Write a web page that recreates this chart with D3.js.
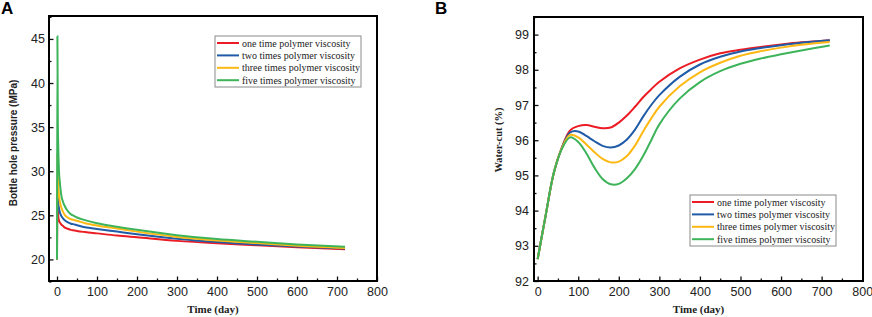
<!DOCTYPE html>
<html>
<head>
<meta charset="utf-8">
<script src="https://cdn.jsdelivr.net/npm/d3@7"></script>
<style>
	body { margin: 0; background: #fff; }
	svg { display: block; }
	.tick text { font-family: Arial, "Liberation Sans", sans-serif; font-size: 12.5px; fill: #222; }
	.axis path { display: none; }
	.axis line { stroke: #111; stroke-width: 1.3; }
</style>
</head>
<body>
<svg width="872" height="317"></svg>
<script>
// series names (legend)
var seriesNames = ['one time polymer viscosity', 'two times polymer viscosity', 'three times polymer viscosity', 'five times polymer viscosity'];
var seriesColors = ['#ec1c24', '#1f5ba6', '#fdb813', '#3db45a'];

// Panel A - bottle hole pressure (MPa)
var timeA = [0, 1, 2, 3, 5, 7, 10, 16, 20, 25, 35, 40, 50, 70, 100, 150, 200, 300, 400, 500, 600, 720];
var pressOne   = [20, 27.0, 25.8, 25.0, 24.4, 24.2, 24.0, 23.75, 23.6, 23.5, 23.35, 23.3, 23.22, 23.1, 22.95, 22.7, 22.5, 22.1, 21.82, 21.6, 21.38, 21.14];
var pressTwo   = [20, 29.0, 27.4, 26.5, 25.8, 25.35, 25.0, 24.6, 24.4, 24.25, 24.05, 24.0, 23.88, 23.65, 23.45, 23.15, 22.85, 22.35, 21.97, 21.68, 21.45, 21.22];
var pressThree = [20, 32.0, 29.8, 28.5, 27.3, 26.6, 26.0, 25.3, 25.0, 24.8, 24.55, 24.5, 24.38, 24.1, 23.85, 23.5, 23.15, 22.55, 22.15, 21.85, 21.55, 21.3];
var pressFive  = [20, 45.3, 36.0, 33.0, 30.0, 28.8, 27.5, 26.4, 26.0, 25.6, 25.1, 24.98, 24.75, 24.45, 24.1, 23.7, 23.35, 22.75, 22.3, 22.0, 21.7, 21.42];

// Panel B - water-cut (%)
var timeB = [0, 20, 40, 60, 80, 100, 120, 140, 160, 180, 200, 220, 240, 260, 280, 300, 350, 400, 450, 500, 550, 600, 650, 720];
var wcOne   = [92.62, 93.88, 95.08, 95.8, 96.28, 96.40, 96.43, 96.38, 96.34, 96.36, 96.50, 96.70, 96.95, 97.22, 97.45, 97.66, 98.04, 98.29, 98.47, 98.57, 98.65, 98.72, 98.78, 98.84];
var wcTwo   = [92.62, 93.88, 95.08, 95.79, 96.22, 96.25, 96.12, 95.97, 95.84, 95.79, 95.85, 96.02, 96.3, 96.67, 97.0, 97.28, 97.80, 98.15, 98.37, 98.52, 98.62, 98.70, 98.77, 98.84];
var wcThree = [92.62, 93.88, 95.08, 95.78, 96.15, 96.08, 95.88, 95.66, 95.47, 95.37, 95.39, 95.55, 95.85, 96.25, 96.62, 96.95, 97.53, 97.93, 98.20, 98.40, 98.53, 98.63, 98.71, 98.79];
var wcFive  = [92.62, 93.88, 95.08, 95.76, 96.08, 95.95, 95.63, 95.22, 94.90, 94.75, 94.76, 94.92, 95.18, 95.55, 96.0, 96.45, 97.18, 97.65, 97.96, 98.17, 98.32, 98.44, 98.55, 98.69];

// ticks
var xTicks = [0, 100, 200, 300, 400, 500, 600, 700, 800];
var xMinor = [50, 150, 250, 350, 450, 550, 650, 750];
var yTicksA = [20, 25, 30, 35, 40, 45];
var yMinorA = [17.5, 22.5, 27.5, 32.5, 37.5, 42.5, 47.5];
var yTicksB = [92, 93, 94, 95, 96, 97, 98, 99];
var yMinorB = [92.5, 93.5, 94.5, 95.5, 96.5, 97.5, 98.5, 99.5];

var svg = d3.select('svg');

function drawPanel(p) {
	var g = svg.append('g');
	var x = d3.scaleLinear().domain(p.xDomain).range([p.left, p.right]);
	var y = d3.scaleLinear().domain(p.yDomain).range([p.bottom, p.top]);

	// axes with inward ticks
	g.append('g').attr('class', 'axis')
		.attr('transform', 'translate(0,' + p.bottom + ')')
		.call(d3.axisBottom(x).tickValues(xTicks).tickSizeInner(-4.5).tickSizeOuter(0).tickPadding(6));
	g.append('g').attr('class', 'axis')
		.attr('transform', 'translate(0,' + p.bottom + ')')
		.call(d3.axisBottom(x).tickValues(xMinor).tickSizeInner(-2.5).tickSizeOuter(0).tickFormat(''));
	g.append('g').attr('class', 'axis')
		.attr('transform', 'translate(' + p.left + ',0)')
		.call(d3.axisLeft(y).tickValues(p.yTicks).tickSizeInner(-4.5).tickSizeOuter(0).tickPadding(p.yPad));
	g.append('g').attr('class', 'axis')
		.attr('transform', 'translate(' + p.left + ',0)')
		.call(d3.axisLeft(y).tickValues(p.yMinor).tickSizeInner(-2.5).tickSizeOuter(0).tickFormat(''));

	// lines
	var line = d3.line()
		.x(function(d) { return x(d[0]); })
		.y(function(d) { return y(d[1]); })
		.curve(p.curve);
	p.series.forEach(function(vals, i) {
		g.append('path')
			.datum(p.time.map(function(t, j) { return [t, vals[j]]; }))
			.attr('fill', 'none')
			.attr('stroke', seriesColors[i])
			.attr('stroke-width', 2)
			.attr('d', line);
	});

	// frame
	g.append('rect')
		.attr('x', p.left).attr('y', p.top)
		.attr('width', p.right - p.left).attr('height', p.bottom - p.top)
		.attr('fill', 'none').attr('stroke', '#000').attr('stroke-width', 2);

	// legend
	var lg = g.append('g').attr('transform', 'translate(' + p.legX + ',' + p.legY + ')');
	lg.append('rect')
		.attr('x', 0).attr('y', 0).attr('width', 146).attr('height', 51)
		.attr('fill', '#fff').attr('stroke', '#8a8a8a').attr('stroke-width', 1);
	seriesNames.forEach(function(name, i) {
		var cy = 7 + i * 12.4;
		lg.append('line')
			.attr('x1', 2).attr('x2', 24).attr('y1', cy).attr('y2', cy)
			.attr('stroke', seriesColors[i]).attr('stroke-width', 2);
		lg.append('text')
			.attr('x', 27).attr('y', cy + 3.5)
			.style('font-family', '"Times New Roman", "Liberation Serif", serif')
			.style('font-size', '10px').style('fill', '#222')
			.text(name);
	});

	// axis titles
	g.append('text')
		.attr('x', (p.left + p.right) / 2).attr('y', 313)
		.attr('text-anchor', 'middle')
		.style('font-family', '"Times New Roman", "Liberation Serif", serif')
		.style('font-size', '11px').style('font-weight', 'bold').style('fill', '#222')
		.text('Time (day)');
	g.append('text')
		.attr('transform', 'translate(' + p.yTitleX + ',' + p.yTitleY + ') rotate(-90)')
		.attr('text-anchor', 'middle')
		.style('font-family', p.yTitleFont)
		.style('font-size', p.yTitleSize).style('font-weight', 'bold').style('fill', '#222')
		.text(p.yTitle);

	// panel letter
	g.append('text')
		.attr('x', p.letterX).attr('y', 14)
		.style('font-family', 'Arial, "Liberation Sans", sans-serif')
		.style('font-size', '17px').style('font-weight', 'bold')
		.text(p.letter);
}

drawPanel({
	left: 49, right: 377, top: 16, bottom: 281,
	xDomain: [-20, 800], yDomain: [17.55, 47.6],
	yTicks: yTicksA, yMinor: yMinorA, yPad: 4,
	time: timeA, series: [pressOne, pressTwo, pressThree, pressFive],
	curve: d3.curveMonotoneX,
	legX: 215, legY: 36,
	yTitle: 'Bottle hole pressure (MPa)', yTitleX: 17, yTitleY: 143,
	yTitleFont: 'Arial, "Liberation Sans", sans-serif', yTitleSize: '10px',
	letter: 'A', letterX: 1
});

drawPanel({
	left: 534, right: 863, top: 17, bottom: 281,
	xDomain: [-9, 802], yDomain: [92, 99.5],
	yTicks: yTicksB, yMinor: yMinorB, yPad: 5,
	time: timeB, series: [wcOne, wcTwo, wcThree, wcFive],
	curve: d3.curveCatmullRom.alpha(0.5),
	legX: 690, legY: 195,
	yTitle: 'Water-cut (%)', yTitleX: 502, yTitleY: 140,
	yTitleFont: '"Times New Roman", "Liberation Serif", serif', yTitleSize: '10.5px',
	letter: 'B', letterX: 435
});
</script>
</body>
</html>
